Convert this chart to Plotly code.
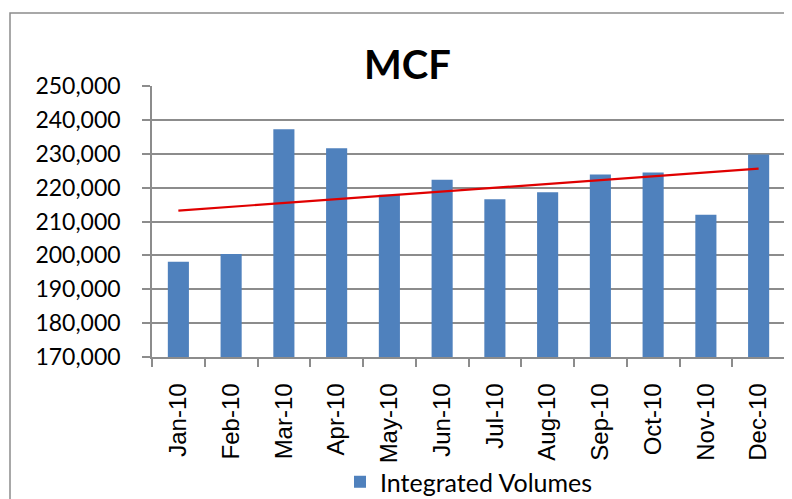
import numpy as np
import plotly.graph_objects as go

months = ["Jan-10", "Feb-10", "Mar-10", "Apr-10", "May-10", "Jun-10",
          "Jul-10", "Aug-10", "Sep-10", "Oct-10", "Nov-10", "Dec-10"]
volumes = [198100, 200400, 237200, 231600, 217900, 222300,
           216600, 218600, 223900, 224500, 212000, 229800]
y_ticks = [170000, 180000, 190000, 200000, 210000, 220000, 230000, 240000, 250000]

# linear trendline fitted to the series
idx = np.arange(len(volumes))
slope, intercept = np.polyfit(idx, volumes, 1)
trend = slope * idx + intercept

fig = go.Figure()
fig.add_trace(go.Bar(
    x=months, y=volumes, name="Integrated Volumes",
    marker=dict(color="#4F81BD", line=dict(width=0)),
))
fig.add_trace(go.Scatter(
    x=months, y=trend, mode="lines", showlegend=False,
    line=dict(color="#E00000", width=2.2),
))

W, H = 784, 491
L, R, T, B = 144, 7, 78, 142
PW, PH = W - L - R, H - T - B

fig.update_layout(
    width=W, height=H,
    margin=dict(l=L, r=R, t=T, b=B, autoexpand=False),
    paper_bgcolor="white", plot_bgcolor="white",
    bargap=0.6,
    title=dict(text="<b>MCF</b>", x=0.5096, xref="container", xanchor="center",
               y=0.884, yref="container", yanchor="middle",
               font=dict(family="Lato", size=40, color="black")),
    legend=dict(orientation="h", x=0.4235, xref="container", xanchor="left",
                y=0.0346, yref="container", yanchor="middle",
                bgcolor="rgba(0,0,0,0)", tracegroupgap=0,
                font=dict(family="Lato", size=25, color="black"),
                itemwidth=30),
    font=dict(family="Lato", color="black"),
    showlegend=True,
)
fig.update_yaxes(
    range=[170000, 250000], tickvals=y_ticks, tickformat=",d",
    showgrid=True, gridcolor="#8C8C8C", gridwidth=1.5,
    showline=True, linecolor="#8C8C8C", linewidth=1.5,
    ticks="outside", ticklen=8, tickcolor="#8C8C8C", tickwidth=1.5,
    ticklabelstandoff=17, automargin=False,
    tickfont=dict(family="Lato", size=23, color="black"),
    zeroline=False,
)
fig.update_xaxes(
    tickangle=-90, tickson="boundaries",
    showline=True, linecolor="#8C8C8C", linewidth=1.5,
    ticks="outside", ticklen=8, tickcolor="#8C8C8C", tickwidth=1.5,
    ticklabelstandoff=15, automargin=False,
    tickfont=dict(family="Liberation Sans", size=24, color="black"),
    showgrid=False,
)
# chart frame
fig.add_shape(type="rect", xref="paper", yref="paper",
              x0=(2 - L) / PW, x1=(800 - L) / PW,
              y0=-(520 - (H - B)) / PH, y1=1 + (T - 5) / PH,
              line=dict(color="#8C8C8C", width=1.5), layer="below")

fig.write_html("out.html")
